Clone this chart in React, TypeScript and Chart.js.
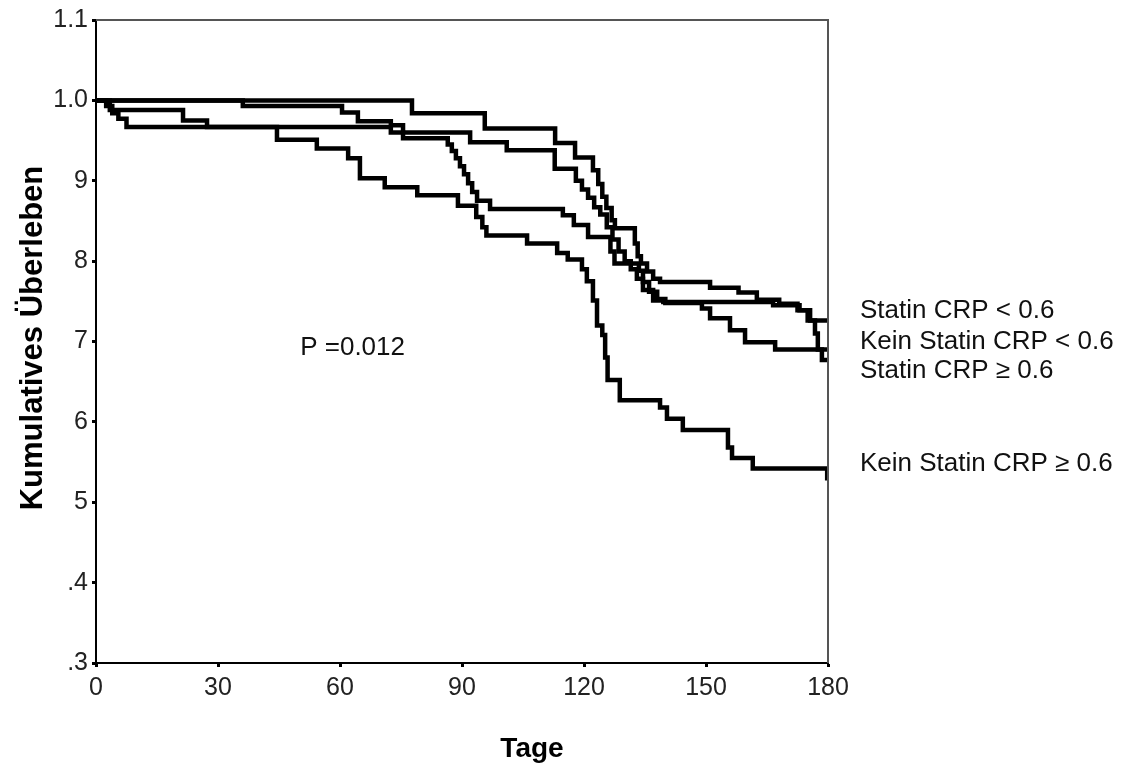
import React, { useEffect, useRef } from "react";
import { Chart, registerables } from "chart.js";

Chart.register(...registerables);

const FONT = "'Liberation Sans', Arial, Helvetica, sans-serif";

// Axis ticks
const xTickStep = 30;
const xMin = 0;
const xMax = 180;
const yMin = 0.3;
const yMax = 1.1;
const yTickLabels = [".3", ".4", "5", "6", "7", "8", "9", "1.0", "1.1"];

// Texts
const yTitle = "Kumulatives Überleben";
const xTitle = "Tage";
const pValueText = "P =0.012";
const seriesLabels = [
  "Statin CRP < 0.6",
  "Kein Statin CRP < 0.6",
  "Statin CRP ≥ 0.6",
  "Kein Statin CRP ≥ 0.6",
];

// Kaplan-Meier step data (day, cumulative survival)
const statinLowDays = [0, 77.7, 95.6, 112.9, 117.8, 122.2, 123.5, 124.5, 125.5, 126.8, 127.6, 132.5, 133.2, 134, 135.5, 137, 138.7, 151, 158, 162.5, 168, 172.5, 175, 180];
const statinLowSurv = [1.0, 0.984, 0.965, 0.947, 0.929, 0.913, 0.896, 0.88, 0.866, 0.851, 0.841, 0.822, 0.806, 0.797, 0.787, 0.778, 0.774, 0.767, 0.761, 0.752, 0.747, 0.739, 0.726, 0.726];

const keinLowDays = [0, 3.4, 21.4, 27.3, 72.5, 75.5, 86.5, 87.5, 88.5, 89.5, 90.5, 91.5, 92.5, 93.7, 96.9, 114.8, 117.5, 121, 126.5, 127.5, 133.5, 134.5, 136, 138, 140, 149, 151, 155.9, 159.6, 167, 180];
const keinLowSurv = [1.0, 0.988, 0.975, 0.967, 0.96, 0.953, 0.945, 0.937, 0.928, 0.918, 0.908, 0.897, 0.886, 0.875, 0.865, 0.857, 0.845, 0.83, 0.812, 0.797, 0.788, 0.774, 0.762, 0.753, 0.748, 0.741, 0.729, 0.714, 0.699, 0.69, 0.69];

const statinHighDays = [0, 36.1, 60.5, 64.4, 72.5, 75.5, 92, 101, 112.8, 118, 119.5, 121, 122.5, 124, 125.6, 127, 128.5, 130, 131.5, 133, 134.5, 137, 139.5, 166.5, 173, 175.6, 176.8, 177.5, 178.5, 180];
const statinHighSurv = [1.0, 0.993, 0.985, 0.974, 0.969, 0.96, 0.948, 0.938, 0.915, 0.9, 0.889, 0.879, 0.867, 0.858, 0.842, 0.827, 0.812, 0.8, 0.79, 0.778, 0.764, 0.751, 0.749, 0.745, 0.739, 0.726, 0.71, 0.69, 0.677, 0.677];

const keinHighDays = [0, 2.5, 4, 5.5, 7.5, 44.5, 54.3, 62, 64.9, 71, 79, 89, 93.5, 95, 96, 106, 113.4, 116, 119.5, 120.7, 122.2, 123.2, 124.5, 125.2, 125.8, 128.8, 138.7, 140.4, 144.3, 155.4, 156.4, 161.5, 179.8, 180];
const keinHighSurv = [1.0, 0.993, 0.984, 0.977, 0.967, 0.951, 0.94, 0.928, 0.903, 0.892, 0.882, 0.869, 0.855, 0.842, 0.832, 0.822, 0.81, 0.802, 0.79, 0.775, 0.751, 0.72, 0.708, 0.68, 0.652, 0.627, 0.618, 0.604, 0.59, 0.568, 0.555, 0.542, 0.53, 0.53];

const seriesDays = [statinLowDays, keinLowDays, statinHighDays, keinHighDays];
const seriesSurv = [statinLowSurv, keinLowSurv, statinHighSurv, keinHighSurv];

// label anchor values (in survival units) for the right-hand labels' baselines
const labelBaselineValues = [0.7295, 0.691, 0.655, 0.5395];

const decorPlugin = {
  id: "decor",
  afterDraw(chart: any) {
    const { ctx, chartArea } = chart;
    const yScale = chart.scales.y;
    ctx.save();
    // top and right frame
    ctx.strokeStyle = "#555";
    ctx.lineWidth = 2;
    ctx.beginPath();
    ctx.moveTo(chartArea.left, chartArea.top);
    ctx.lineTo(chartArea.right, chartArea.top);
    ctx.lineTo(chartArea.right, chartArea.bottom);
    ctx.stroke();

    // y title
    ctx.fillStyle = "#000";
    ctx.save();
    ctx.translate(42, 338);
    ctx.rotate(-Math.PI / 2);
    ctx.font = `bold 31px ${FONT}`;
    ctx.textAlign = "center";
    ctx.textBaseline = "alphabetic";
    ctx.fillText(yTitle, 0, 0);
    ctx.restore();

    // x title
    ctx.font = `bold 28px ${FONT}`;
    ctx.textAlign = "center";
    ctx.textBaseline = "alphabetic";
    ctx.fillText(xTitle, 532, 757);

    // p-value
    ctx.fillStyle = "#111";
    ctx.font = `26px ${FONT}`;
    ctx.textAlign = "right";
    ctx.fillText(pValueText, 405, 355);

    // series labels
    ctx.textAlign = "left";
    seriesLabels.forEach((lab, i) => {
      const y = yScale.getPixelForValue(labelBaselineValues[i]);
      ctx.fillText(lab, chartArea.right + 32, y);
    });
    ctx.restore();
  },
};

export default function App() {
  const canvasRef = useRef<HTMLCanvasElement | null>(null);

  useEffect(() => {
    document.body.style.margin = "0";
    const canvas = canvasRef.current;
    if (!canvas) return;
    const datasets = seriesLabels.map((lab, i) => ({
      label: lab,
      data: seriesDays[i].map((d, j) => ({ x: d, y: seriesSurv[i][j] })),
      borderColor: "#000",
      backgroundColor: "#000",
      borderWidth: 4.5,
      pointRadius: 0,
      stepped: "before" as const,
      fill: false,
      tension: 0,
    }));
    const chart = new Chart(canvas, {
      type: "line",
      data: { datasets },
      options: {
        responsive: false,
        animation: false,
        devicePixelRatio: 1,
        layout: { padding: { top: 20, right: 297, left: 0, bottom: 0 } },
        plugins: { legend: { display: false }, tooltip: { enabled: false }, title: { display: false } },
        scales: {
          x: {
            type: "linear",
            min: xMin,
            max: xMax,
            ticks: {
              stepSize: xTickStep,
              color: "#222",
              font: { family: FONT, size: 25 },
              padding: 6,
              maxRotation: 0,
            },
            grid: { drawOnChartArea: false, drawTicks: true, tickLength: 4, tickWidth: 3, tickColor: "#000" },
            border: { display: true, color: "#000", width: 2 },
            afterFit(s: any) {
              s.height = 110;
            },
          },
          y: {
            type: "linear",
            min: yMin,
            max: yMax,
            ticks: {
              stepSize: 0.1,
              color: "#222",
              font: { family: FONT, size: 25 },
              padding: 4,
              callback: (v: any) => {
                const idx = Math.round(Number(v) * 10) - 3;
                return yTickLabels[idx] ?? "";
              },
            },
            grid: { drawOnChartArea: false, drawTicks: true, tickLength: 4, tickWidth: 3, tickColor: "#000" },
            border: { display: true, color: "#000", width: 2 },
            afterFit(s: any) {
              s.width = 96;
            },
          },
        },
      },
      plugins: [decorPlugin],
    });
    return () => chart.destroy();
  }, []);

  return (
    <div style={{ position: "fixed", left: 0, top: 0, width: 1125, height: 773, background: "#fff" }}>
      <canvas ref={canvasRef} width={1125} height={773} />
    </div>
  );
}
